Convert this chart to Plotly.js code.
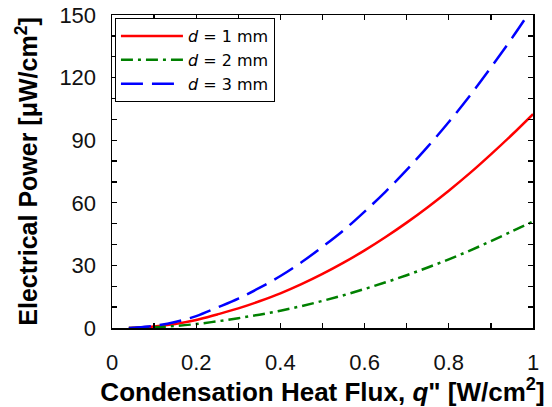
<!DOCTYPE html>
<html>
<head>
<meta charset="utf-8">
<script src="https://cdn.plot.ly/plotly-3.0.1.min.js"></script>
<style>html,body{margin:0;padding:0;background:#fff;}#chart{width:552px;height:407px;}</style>
</head>
<body>
<div id="chart"></div>
<script>
const heatFlux = [0.04, 0.05, 0.1, 0.15, 0.2, 0.25, 0.3, 0.35, 0.4, 0.45, 0.5, 0.55, 0.6, 0.65, 0.7, 0.75, 0.8, 0.85, 0.9, 0.95, 1.0];
const powerD1 = [0, 0.1, 0.7, 1.9, 3.8, 6.5, 9.4, 12.8, 16.6, 21.0, 25.9, 31.3, 37.2, 43.6, 50.5, 57.9, 65.8, 74.2, 83.2, 92.6, 102.5];
const powerD2 = [0, 0.05, 0.35, 0.95, 1.9, 3.2, 4.7, 6.4, 8.3, 10.5, 13.0, 15.7, 18.7, 21.9, 25.3, 29.0, 32.9, 37.1, 41.6, 46.3, 51.0];
const powerD3 = [0, 0.15, 1.05, 2.9, 5.7, 9.8, 14.1, 19.2, 24.9, 31.5, 38.9, 46.8, 55.8, 65.4, 75.8, 86.9, 98.7, 111.3, 124.8, 138.9, 153.8];
const seriesNames = ['<i>d</i> = 1 mm', '<i>d</i> = 2 mm', '<i>d</i> = 3 mm'];
const xTickVals = [0, 0.2, 0.4, 0.6, 0.8, 1];
const xTickText = ['0', '0.2', '0.4', '0.6', '0.8', '1'];
const yTickVals = [0, 30, 60, 90, 120, 150];
const xRange = [0, 1];
const yRange = [0, 150];

const font = 'Liberation Sans, Arial, sans-serif';
const traces = [
  {x: heatFlux, y: powerD1, name: seriesNames[0], mode: 'lines', line: {color: '#ff0000', width: 2.5, dash: 'solid', shape: 'spline'}},
  {x: heatFlux, y: powerD2, name: seriesNames[1], mode: 'lines', line: {color: '#008000', width: 2.5, dash: '12px,5px,3px,5px', shape: 'spline'}},
  {x: heatFlux, y: powerD3, name: seriesNames[2], mode: 'lines', line: {color: '#0000ff', width: 2.5, dash: '22px,9px', shape: 'spline'}},
  {x: [0], y: [0], xaxis: 'x2', yaxis: 'y', mode: 'lines', showlegend: false, hoverinfo: 'skip', line: {width: 0}},
  {x: [0], y: [0], xaxis: 'x', yaxis: 'y2', mode: 'lines', showlegend: false, hoverinfo: 'skip', line: {width: 0}}
];
const tickCommon = {ticks: 'inside', ticklen: 5, tickwidth: 1.3, tickcolor: '#000', showgrid: false, zeroline: false};
const axisCommon = Object.assign({}, tickCommon, {
  showline: true, linecolor: '#000', linewidth: 1.5, mirror: true,
  tickfont: {family: font, size: 22, color: '#111'}
});
const layout = {
  width: 552, height: 407,
  margin: {l: 112, r: 19, t: 15, b: 79},
  paper_bgcolor: '#fff', plot_bgcolor: '#fff',
  showlegend: true,
  legend: {x: 0.007, y: 0.99, xanchor: 'left', yanchor: 'top', bgcolor: '#fff', bordercolor: '#000', borderwidth: 1,
           font: {family: 'DejaVu Sans, sans-serif', size: 16, color: '#000'}, itemwidth: 62, tracegroupgap: 0},
  xaxis: Object.assign({}, axisCommon, {
    range: xRange, tickvals: xTickVals, ticktext: xTickText, ticklabelstandoff: 14,
    minor: Object.assign({dtick: 0.1}, tickCommon),
    title: {text: 'Condensation Heat Flux, <i>q</i>" [W/cm<sup>2</sup>]', font: {family: font, size: 26, color: '#000', weight: 'bold'}, standoff: 5}
  }),
  yaxis: Object.assign({}, axisCommon, {
    range: yRange, tickvals: yTickVals, ticklabelstandoff: 10,
    minor: Object.assign({dtick: 10}, tickCommon),
    title: {text: 'Electrical Power [μW/cm<sup>2</sup>]', font: {family: font, size: 25, color: '#000', weight: 'bold'}, standoff: 14}
  }),
  xaxis2: Object.assign({}, tickCommon, {
    overlaying: 'x', side: 'top', anchor: 'y', range: xRange, tickvals: xTickVals, showticklabels: false, showline: false,
    minor: Object.assign({dtick: 0.1}, tickCommon)
  }),
  yaxis2: Object.assign({}, tickCommon, {
    overlaying: 'y', side: 'right', anchor: 'x', range: yRange, tickvals: yTickVals, showticklabels: false, showline: false,
    minor: Object.assign({dtick: 10}, tickCommon)
  })
};
Plotly.newPlot('chart', traces, layout, {displayModeBar: false, staticPlot: true});
</script>
</body>
</html>
